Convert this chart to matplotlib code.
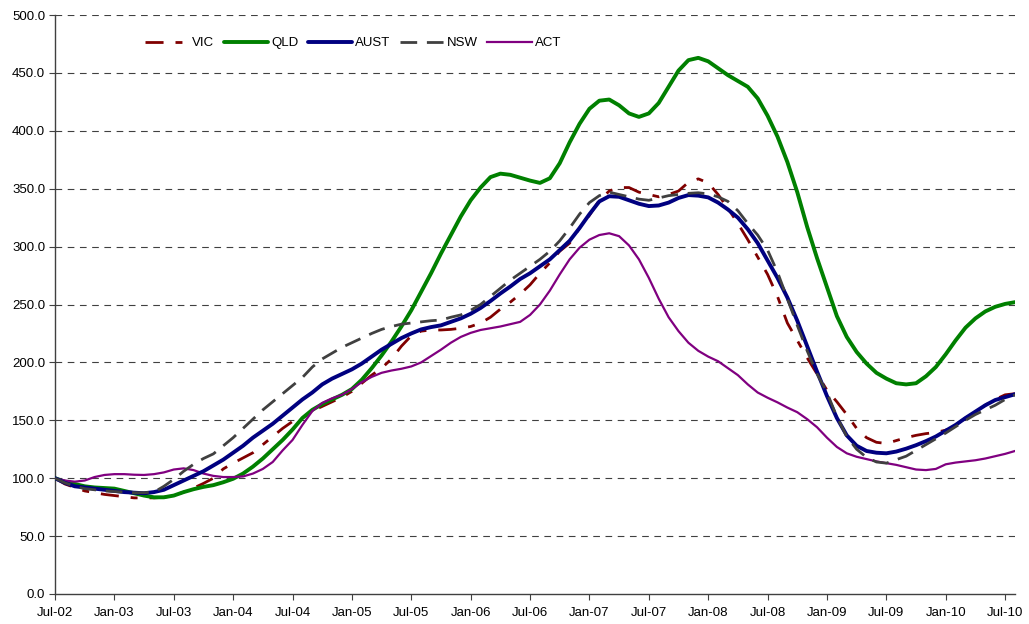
import matplotlib
matplotlib.use("Agg")
import matplotlib.pyplot as plt
import numpy as np

plt.rcParams['font.family'] = ['Liberation Sans', 'DejaVu Sans']

tick_labels = ['Jul-02', 'Jan-03', 'Jul-03', 'Jan-04', 'Jul-04', 'Jan-05', 'Jul-05', 'Jan-06',
               'Jul-06', 'Jan-07', 'Jul-07', 'Jan-08', 'Jul-08', 'Jan-09', 'Jul-09', 'Jan-10', 'Jul-10']

# monthly index values, Jul-02 .. Aug-10
vic = [100, 95, 92, 89, 87.5, 86, 85, 84, 83, 83, 83, 83.5, 85, 88, 91.5, 95.5, 100, 108, 113, 117.5,
       122, 129, 136, 143, 149, 152, 158, 162, 166, 170, 175, 182, 189, 195, 203, 214, 223, 227, 228, 228,
       228.5, 229.5, 231, 234, 239, 246, 252, 259, 267, 277, 286, 296, 303, 316, 327, 340, 348, 351, 351, 347,
       345, 343, 345, 348, 355.5, 358.5, 355, 345, 333, 320, 306, 291, 276, 257, 234, 219, 204, 190, 176, 166,
       155, 143, 135, 131, 130, 132.5, 135, 137, 138.5, 139.5, 141.5, 146, 152, 157, 163, 168, 172, 173]

qld = [100, 97, 95, 93, 92, 91.5, 91, 89, 87, 85, 83.5, 83.5, 85, 88, 90.5, 92.5, 94, 96.5, 99.5, 104,
       110, 117, 125, 133, 142, 152, 159, 164, 168, 172, 177, 185, 195, 206, 218, 231, 245, 261, 277, 294,
       310, 326, 340, 351, 360, 363, 362, 359.5, 357, 355, 359, 372, 390, 406, 419, 426, 427, 422, 415, 412,
       415, 424, 438, 452, 461, 463, 460, 454, 448, 443, 438, 428, 413, 395, 373, 347, 317, 290, 265, 240,
       222, 209, 199, 191, 186, 182, 181, 182, 188, 196, 207, 219, 230, 238, 244, 248, 250.5, 252]

aust = [100, 96, 93, 92, 91, 90, 89, 88, 87.5, 87, 88, 90, 94, 98, 102, 106, 111, 116, 122, 128,
        135, 141, 147, 154, 161, 168, 174, 181, 186, 190, 194, 199, 205, 211, 216, 221, 225, 228.5, 230.5, 232,
        235, 238, 242, 247, 253, 259.5, 265.5, 272, 277, 283, 289, 297, 305, 316, 328, 339, 343.5, 343, 340, 337,
        335, 335.5, 338, 342, 344.5, 344, 342.5, 338, 332, 325, 315, 303, 288, 273, 256, 236, 214, 192, 171, 152,
        137, 128, 123.5, 122, 121.5, 123, 125.5, 128.5, 132, 136, 141, 146, 152, 157.5, 163, 167.5, 170, 172.5]

nsw = [100, 96, 93, 91, 90, 89, 88.5, 88, 87.5, 87.5, 88, 93, 99, 106, 112, 117, 121, 128, 135, 143,
       151, 159, 166, 173, 180, 187, 196, 203, 208, 213, 217, 221, 225, 228.5, 231, 233, 234, 235, 236, 236.6,
       239, 241, 245, 250, 257, 264, 271, 277, 283, 289, 296, 305, 316, 328, 338, 344, 347, 345, 343, 341,
       340, 342, 344, 345, 346, 346.5, 345.5, 343, 339, 331, 320, 310, 297, 278, 255, 232, 210, 190, 174, 153,
       136, 125, 118, 114, 113, 116, 119, 124, 129, 134, 139, 144.5, 150, 155, 159, 163, 168, 172]

act = [100, 98, 97, 98, 101, 102.8, 103.5, 103.5, 103, 102.8, 103.5, 105, 107.5, 108.5, 107, 104, 102, 101, 101, 101.5,
       104, 108, 114, 124, 133, 146, 158, 165, 169, 172, 177, 183, 187.5, 191, 193, 194.5, 196.5, 200, 205.5, 211,
       217, 222, 225.5, 228, 229.5, 231, 233, 235, 241, 250, 262, 276, 289, 299, 306, 310, 311.5, 309, 301, 289,
       273, 255, 239, 227, 217, 210, 205, 201, 195, 189, 181, 174, 169.5, 165.5, 161, 157, 151, 144, 135, 127,
       121.5, 118.5, 116.5, 114.5, 113, 111.5, 109.5, 107.5, 107, 108, 112, 113.5, 114.5, 115.5, 117, 119, 121, 123.5]

months = np.arange(len(aust))
tick_pos = np.arange(len(tick_labels)) * 6

fig = plt.figure(figsize=(10.29, 6.24), dpi=100)
ax = fig.add_axes([55 / 1029, 30 / 624, 960 / 1029, 579 / 624])

ax.set_ylim(0, 500)
ax.set_xlim(0, 97)
ax.set_yticks(np.arange(0, 501, 50))
ax.set_yticklabels([f"{v:.1f}" for v in np.arange(0, 501, 50)])
ax.set_xticks(tick_pos)
ax.set_xticklabels(tick_labels)

for y in np.arange(50, 501, 50):
    ax.axhline(y, color='#404040', lw=0.8, dashes=(6, 5), zorder=1)

ax.plot(months, vic, color='#800000', lw=2.0, dashes=(6.5, 4.3, 2.5, 4.3), label='VIC', zorder=3)
ax.plot(months, qld, color='#008000', lw=2.8, label='QLD', zorder=3, solid_capstyle='round')
ax.plot(months, aust, color='#000080', lw=2.8, label='AUST', zorder=4, solid_capstyle='round')
ax.plot(months, nsw, color='#404040', lw=2.0, dashes=(6, 3.5), label='NSW', zorder=5)
ax.plot(months, act, color='#800080', lw=1.6, label='ACT', zorder=3)

for s in ['top', 'right']:
    ax.spines[s].set_visible(False)
for s in ['left', 'bottom']:
    ax.spines[s].set_color('#404040')
    ax.spines[s].set_linewidth(1.0)

ax.tick_params(axis='both', direction='out', length=4, width=0.8, color='#404040', labelsize=9.5, labelcolor='black')
ax.tick_params(axis='x', pad=5)
ax.tick_params(axis='y', pad=3)

leg = ax.legend(loc='center left', bbox_to_anchor=(0.088, 0.951), ncol=5, frameon=False,
                fontsize=9.5, handlelength=3.4, handletextpad=0.2, columnspacing=0.7, borderaxespad=0)

fig.savefig('out.png', dpi=100)
